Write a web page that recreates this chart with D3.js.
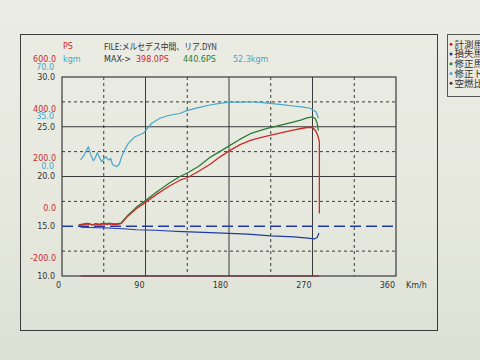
<!DOCTYPE html>
<html><head><meta charset="utf-8">
<script src="https://cdn.jsdelivr.net/npm/d3@7"></script>
<style>
html,body{margin:0;padding:0;background:#e6e8de;}
svg{display:block;}
text{font-family:"DejaVu Sans",sans-serif;}
</style></head>
<body>
<svg id="c" width="480" height="360"></svg>
<script>
// ---- data ----
const xTicks = [0, 90, 180, 270, 360];
const psTickLabels = [600, 400, 200, 0, -200];
const kgmTickLabels = [70, 35, 0];
const afrTickLabels = [30, 25, 20, 15, 10];

const speedRed = [18,22,27,30,33,36,40,44,48,52,56,60,64,70,80,90,102,115,127,135,147,160,170,181,192,203,214,224,237,249,258,264,270,274,276,277.4,277.4,277.4];
const psMeasured = [4,6,10,8,4,9,6,10,8,10,7,8,12,37,70,96,128,160,185,195,220,250,278,305,328,345,356,365,376,386,393,397,398,380,360,340,150,51];

const speedGreen = [18,22,27,30,33,36,40,44,48,52,56,60,64,70,80,90,102,115,127,135,147,160,170,181,192,203,214,224,237,249,258,264,270,273,275,276.3];
const psCorrected = [5,8,12,10,6,11,8,12,10,12,9,10,14,40,76,103,138,172,200,214,240,278,300,325,350,372,385,396,408,419,428,436,440,432,415,385];

const speedLoss = [20,30,40,50,60,70,80,90,100,115,130,145,160,180,200,225,250,265,272,275,277];
const psLoss = [-4,-5,-6,-7,-9,-11,-14,-15,-16,-19,-22,-24,-26,-29,-32,-39,-43,-48,-51,-45,-27];

const speedTq = [20,24,28.4,31,33.8,36,38,40.5,42.8,45,47.4,49,51,52.5,54.6,57,59,61.8,64.3,68,71.5,78.7,87.6,96.7,105.6,112.8,120,127,134.4,147,159.5,170,181,192,202.6,214,224.2,237,249.3,260,267.3,273.8,276.3];
const torque = [11.3,15,20.7,15,10.8,13,16.5,13,10.1,12,13.7,12,11.3,12.5,7.8,7.5,6.6,8.5,13.7,19,23.1,27.8,30.2,37.3,40.8,42.4,43.5,44.2,46.2,48.3,50.2,51.3,52.3,52.3,52.5,52,51.4,50.5,49.5,48.7,47.9,45.5,40.8];

const speedAfr = [20, 100, 200, 277];
const afr = [10, 10, 10, 10];

const refAfr = 15;
const legendItems = ["計測馬力", "損失馬力", "修正馬力", "修正トルク", "空燃比"];
const maxPS = "398.0PS", maxCorr = "440.6PS", maxTq = "52.3kgm";

// ---- colours ----
const C = {red:"#cc2a2c", green:"#2a7d34", cyan:"#46a6cc", blue:"#203aa6", dk:"#6a2a40", ink:"#333", grid:"#3a3a3a"};

const svg = d3.select("#c");
const defs = svg.append("defs");
const g1 = defs.append("linearGradient").attr("id","paper").attr("x1",0).attr("y1",0).attr("x2",0).attr("y2",1);
g1.append("stop").attr("offset","0%").attr("stop-color","#ebece3");
g1.append("stop").attr("offset","55%").attr("stop-color","#e7e9df");
g1.append("stop").attr("offset","100%").attr("stop-color","#dde0d4");
svg.append("rect").attr("width",480).attr("height",360).attr("fill","url(#paper)");

// frame
svg.append("rect").attr("x",20.5).attr("y",34.5).attr("width",417).attr("height",296)
  .attr("fill","none").attr("stroke","#3c3c3c").attr("stroke-width",1);

// scales
const x = d3.scaleLinear().domain([0,360]).range([62,396]);
const yAfr = d3.scaleLinear().domain([10,30]).range([276,77]);
const yPs = d3.scaleLinear().domain([-200,600]).range([276,77]);
const yKgm = d3.scaleLinear().domain([0,70]).range([176,77]);

const plot = svg.append("g");
[45,135,225,315].forEach(v=>{
  plot.append("line").attr("x1",x(v)).attr("x2",x(v)).attr("y1",77).attr("y2",276)
    .attr("stroke",C.grid).attr("stroke-width",1).attr("stroke-dasharray","3,3");
});
[27.5,22.5,17.5,12.5].forEach(v=>{
  plot.append("line").attr("x1",62).attr("x2",396).attr("y1",yAfr(v)).attr("y2",yAfr(v))
    .attr("stroke",C.grid).attr("stroke-width",1).attr("stroke-dasharray","3,3");
});
[90,180,270].forEach(v=>{
  plot.append("line").attr("x1",x(v)).attr("x2",x(v)).attr("y1",77).attr("y2",276)
    .attr("stroke",C.grid).attr("stroke-width",1);
});
[25,20].forEach(v=>{
  plot.append("line").attr("x1",62).attr("x2",396).attr("y1",yAfr(v)).attr("y2",yAfr(v))
    .attr("stroke",C.grid).attr("stroke-width",1);
});
plot.append("rect").attr("x",62).attr("y",77).attr("width",334).attr("height",199)
  .attr("fill","none").attr("stroke",C.grid).attr("stroke-width",1.2);

plot.append("line").attr("x1",62).attr("x2",396).attr("y1",yAfr(refAfr)).attr("y2",yAfr(refAfr))
  .attr("stroke",C.blue).attr("stroke-width",1.6).attr("stroke-dasharray","11,5");

function series(xs, ys, yScale, color, w){
  const pts = xs.map((v,i)=>[v, ys[i]]);
  plot.append("path").datum(pts)
    .attr("d", d3.line().x(d=>x(d[0])).y(d=>yScale(d[1])))
    .attr("fill","none").attr("stroke",color).attr("stroke-width",w).attr("stroke-linejoin","round");
}
series(speedAfr, afr, yAfr, C.dk, 1.2);
series(speedLoss, psLoss, yPs, C.blue, 1.2);
series(speedTq, torque, yKgm, C.cyan, 1.2);
series(speedGreen, psCorrected, yPs, C.green, 1.3);
series(speedRed, psMeasured, yPs, C.red, 1.3);

const xAxis = d3.axisBottom(x).tickValues(xTicks).tickSize(0).tickPadding(0);
const gx = svg.append("g").attr("transform","translate(0,281)").call(xAxis);
gx.select(".domain").remove();
gx.selectAll("text").attr("font-size",8).attr("fill",C.ink).attr("text-anchor","end")
  .attr("dx",-1.5).attr("dy","0.35em").attr("y",4)
  .style("font-family","'DejaVu Sans',sans-serif");
svg.append("text").attr("x",406).attr("y",288).attr("font-size",8).attr("fill",C.ink).text("Km/h");

afrTickLabels.forEach(v=>{
  svg.append("text").attr("x",55).attr("y",yAfr(v)).attr("dy","0.35em").attr("text-anchor","end")
    .attr("font-size",8).attr("fill",C.ink).text(v.toFixed(1));
});
psTickLabels.forEach(v=>{
  svg.append("text").attr("x",56).attr("y",yPs(v)-18).attr("dy","0.35em").attr("text-anchor","end")
    .attr("font-size",8).attr("fill",C.red).text(v.toFixed(1));
});
kgmTickLabels.forEach(v=>{
  svg.append("text").attr("x",54).attr("y",yKgm(v)-10).attr("dy","0.35em").attr("text-anchor","end")
    .attr("font-size",8).attr("fill",C.cyan).text(v.toFixed(1));
});

svg.append("text").attr("x",63).attr("y",46).attr("dy","0.35em").attr("font-size",8).attr("fill",C.red).text("PS");
svg.append("text").attr("x",63).attr("y",59).attr("dy","0.35em").attr("font-size",8).attr("fill",C.cyan).text("kgm");
svg.append("text").attr("x",104).attr("y",47).attr("dy","0.35em").attr("font-size",9).attr("fill",C.ink)
  .attr("textLength",113).attr("lengthAdjust","spacingAndGlyphs")
  .style("font-family","'Noto Sans CJK JP',sans-serif").text("FILE:メルセデス中間、リア.DYN");
svg.append("text").attr("x",104).attr("y",59).attr("dy","0.35em").attr("font-size",8).attr("fill",C.ink).text("MAX->");
svg.append("text").attr("x",136).attr("y",59).attr("dy","0.35em").attr("font-size",8).attr("fill",C.red).text(maxPS);
svg.append("text").attr("x",183).attr("y",59).attr("dy","0.35em").attr("font-size",8).attr("fill",C.green).text(maxCorr);
svg.append("text").attr("x",233).attr("y",59).attr("dy","0.35em").attr("font-size",8).attr("fill",C.cyan).text(maxTq);

svg.append("rect").attr("x",447.5).attr("y",34.5).attr("width",45).attr("height",62)
  .attr("fill","#e9eae2").attr("stroke","#555").attr("stroke-width",1);
const legColors = [C.red, C.blue, C.green, C.cyan, C.dk];
legendItems.forEach((t,i)=>{
  const yy = 44.3 + i*9.75;
  svg.append("circle").attr("cx",451).attr("cy",yy).attr("r",1.5).attr("fill",legColors[i]);
  svg.append("text").attr("x",454.5).attr("y",yy).attr("dy","0.36em").attr("font-size",9.5)
    .attr("fill",C.ink).style("font-family","'Noto Sans CJK JP',sans-serif").text(t);
});
</script>
</body></html>
